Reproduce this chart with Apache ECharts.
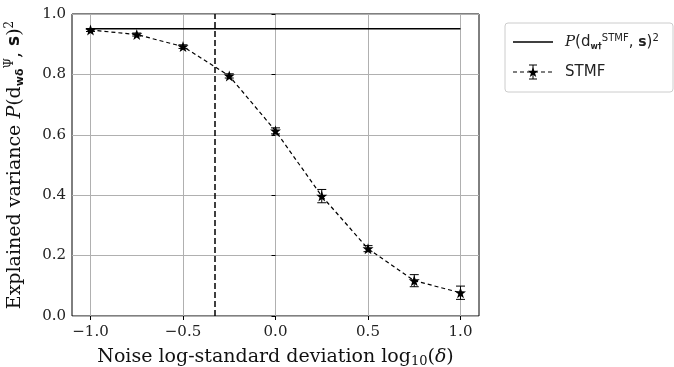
<!DOCTYPE html>
<html>
<head>
<meta charset="utf-8">
<script src="https://cdn.jsdelivr.net/npm/echarts@6/dist/echarts.min.js"></script>
<style>
  html, body { margin: 0; padding: 0; background: #fff; }
  #main { width: 674px; height: 367px; }
</style>
</head>
<body>
<div id="main"></div>
<script>
// noise level log10(delta)
const noiseLevels = [-1, -0.75, -0.5, -0.25, 0, 0.25, 0.5, 0.75, 1];
// explained variance of STMF with std error
const stmfValues = [0.947, 0.932, 0.892, 0.795, 0.613, 0.397, 0.223, 0.117, 0.077];
const stmfErrors = [0.005, 0.005, 0.006, 0.007, 0.01, 0.022, 0.01, 0.02, 0.022];
// reference explained variance (noise-free)
const refValue = 0.951;
const refRange = [-1, 1];
// chosen noise level (vertical marker)
const chosenNoise = -0.33;
const xTicks = [-1, -0.5, 0, 0.5, 1];

const STAR = 'path://M0,-10 L2.35,-3.24 L9.51,-3.09 L3.8,1.24 L5.88,8.09 L0,4 L-5.88,8.09 L-3.8,1.24 L-9.51,-3.09 L-2.35,-3.24 Z';
const starPoints = (cx, cy, r) => {
  const pts = [];
  for (let k = 0; k < 10; k++) {
    const a = -Math.PI / 2 + k * Math.PI / 5;
    const rr = k % 2 ? r * 0.4 : r;
    pts.push([cx + rr * Math.cos(a), cy + rr * Math.sin(a)]);
  }
  return pts;
};
const SERIF = '"DejaVu Serif", serif';
const SANS = '"DejaVu Sans", sans-serif';

const chart = echarts.init(document.getElementById('main'), null, { renderer: 'canvas' });

const fmt = v => (v < 0 ? '\u2212' : '') + Math.abs(v).toFixed(1);

chart.setOption({
  animation: false,
  grid: {
    left: 72, right: 195, top: 14, bottom: 51,
    show: true, borderColor: '#000', borderWidth: 1,
    outerBoundsMode: 'none'
  },
  xAxis: {
    type: 'value',
    min: -1.1,
    max: 1.1,
    axisLine: { show: false },
    axisTick: { show: true, length: 4, lineStyle: { color: '#000' }, customValues: xTicks },
    axisLabel: {
      customValues: xTicks,
      formatter: fmt,
      fontFamily: SERIF, fontSize: 15, color: '#222', margin: 9
    },
    splitLine: { show: true, lineStyle: { color: '#b0b0b0', width: 1 } },
    name: '{t|Noise log-standard deviation log}{sub|10}{t|(}{i|δ}{t|)}',
    nameLocation: 'middle',
    nameGap: 31,
    nameTextStyle: {
      rich: {
        t: { fontFamily: SERIF, fontSize: 19, color: '#111' },
        i: { fontFamily: SERIF, fontSize: 19, color: '#111', fontStyle: 'italic' },
        sub: { fontFamily: SERIF, fontSize: 13, color: '#111', padding: [8, 0, 0, 0] }
      }
    }
  },
  yAxis: {
    type: 'value',
    min: 0,
    max: 1,
    interval: 0.2,
    axisLine: { show: false },
    axisTick: { show: true, length: 4, lineStyle: { color: '#000' } },
    axisLabel: {
      formatter: v => v.toFixed(1),
      fontFamily: SERIF, fontSize: 15, color: '#222', margin: 6
    },
    splitLine: { show: true, lineStyle: { color: '#b0b0b0', width: 1 } },
    name: '{t|Explained variance }{i|P}{t|(d}{sub|wδ}{sup|Ψ}{t|, }{b|s}{t|)}{sup|2}',
    nameLocation: 'middle',
    nameGap: 46,
    nameTextStyle: {
      rich: {
        t: { fontFamily: SERIF, fontSize: 19, color: '#111' },
        i: { fontFamily: SERIF, fontSize: 19, color: '#111', fontStyle: 'italic' },
        b: { fontFamily: SANS, fontSize: 17, color: '#111', fontWeight: 'bold' },
        sub: { fontFamily: SANS, fontSize: 11, color: '#111', fontWeight: 'bold', padding: [10, 0, 0, 0] },
        sup: { fontFamily: SERIF, fontSize: 12, color: '#111', padding: [0, 0, 10, 0] }
      }
    }
  },
  series: [
    {
      name: 'reference',
      type: 'line',
      data: refRange.map(x => [x, refValue]),
      showSymbol: false,
      lineStyle: { color: '#000', width: 1.5 },
      z: 3
    },
    {
      name: 'STMF',
      type: 'line',
      data: noiseLevels.map((x, i) => [x, stmfValues[i]]),
      symbol: STAR,
      symbolSize: 11,
      itemStyle: { color: '#000' },
      lineStyle: { color: '#000', width: 1.2, type: [4, 3] },
      z: 4,
      markLine: {
        silent: true,
        symbol: 'none',
        label: { show: false },
        lineStyle: { color: '#000', width: 1.5, type: [6, 3] },
        data: [{ xAxis: chosenNoise }]
      }
    },
    {
      name: 'err',
      type: 'custom',
      data: noiseLevels.map((x, i) => [x, stmfValues[i] - stmfErrors[i], stmfValues[i] + stmfErrors[i]]),
      renderItem: (params, api) => {
        const lo = api.coord([api.value(0), api.value(1)]);
        const hi = api.coord([api.value(0), api.value(2)]);
        const w = 4.5;
        const st = { stroke: '#000', lineWidth: 1 };
        return {
          type: 'group',
          children: [
            { type: 'line', shape: { x1: lo[0], y1: lo[1], x2: hi[0], y2: hi[1] }, style: st },
            { type: 'line', shape: { x1: lo[0] - w, y1: lo[1], x2: lo[0] + w, y2: lo[1] }, style: st },
            { type: 'line', shape: { x1: hi[0] - w, y1: hi[1], x2: hi[0] + w, y2: hi[1] }, style: st }
          ]
        };
      },
      z: 5
    }
  ],
  graphic: [
    {
      type: 'group',
      x: 505, y: 23,
      children: [
        { type: 'rect', shape: { x: 0, y: 0, width: 168, height: 69, r: 3 }, style: { fill: '#fff', stroke: '#ccc', lineWidth: 1 } },
        { type: 'line', shape: { x1: 8, y1: 19, x2: 48, y2: 19 }, style: { stroke: '#000', lineWidth: 1.5 } },
        {
          type: 'text', x: 60, y: 19,
          style: {
            text: '{i|P}{t|(d}{sub|w†}{sup|STMF}{t|, }{b|s}{t|)}{sup|2}',
            verticalAlign: 'middle',
            rich: {
              t: { fontFamily: SANS, fontSize: 15, fill: '#222' },
              i: { fontFamily: SERIF, fontSize: 15, fill: '#222', fontStyle: 'italic' },
              b: { fontFamily: SANS, fontSize: 14, fill: '#222', fontWeight: 'bold' },
              sub: { fontFamily: SANS, fontSize: 8, fill: '#222', fontWeight: 'bold', padding: [9, 0, 0, 0] },
              sup: { fontFamily: SANS, fontSize: 10, fill: '#222', padding: [0, 0, 8, 0] }
            }
          }
        },
        { type: 'line', shape: { x1: 8, y1: 49, x2: 48, y2: 49 }, style: { stroke: '#000', lineWidth: 1.2, lineDash: [4, 3] } },
        { type: 'line', shape: { x1: 28, y1: 42, x2: 28, y2: 56 }, style: { stroke: '#000', lineWidth: 1 } },
        { type: 'line', shape: { x1: 24, y1: 42, x2: 32, y2: 42 }, style: { stroke: '#000', lineWidth: 1 } },
        { type: 'line', shape: { x1: 24, y1: 56, x2: 32, y2: 56 }, style: { stroke: '#000', lineWidth: 1 } },
        { type: 'polygon', shape: { points: starPoints(28, 49.5, 5.5) }, style: { fill: '#000' } },
        { type: 'text', x: 60, y: 49, style: { text: 'STMF', fontFamily: SANS, fontSize: 15, fill: '#222', verticalAlign: 'middle' } }
      ]
    }
  ]
});
</script>
</body>
</html>
